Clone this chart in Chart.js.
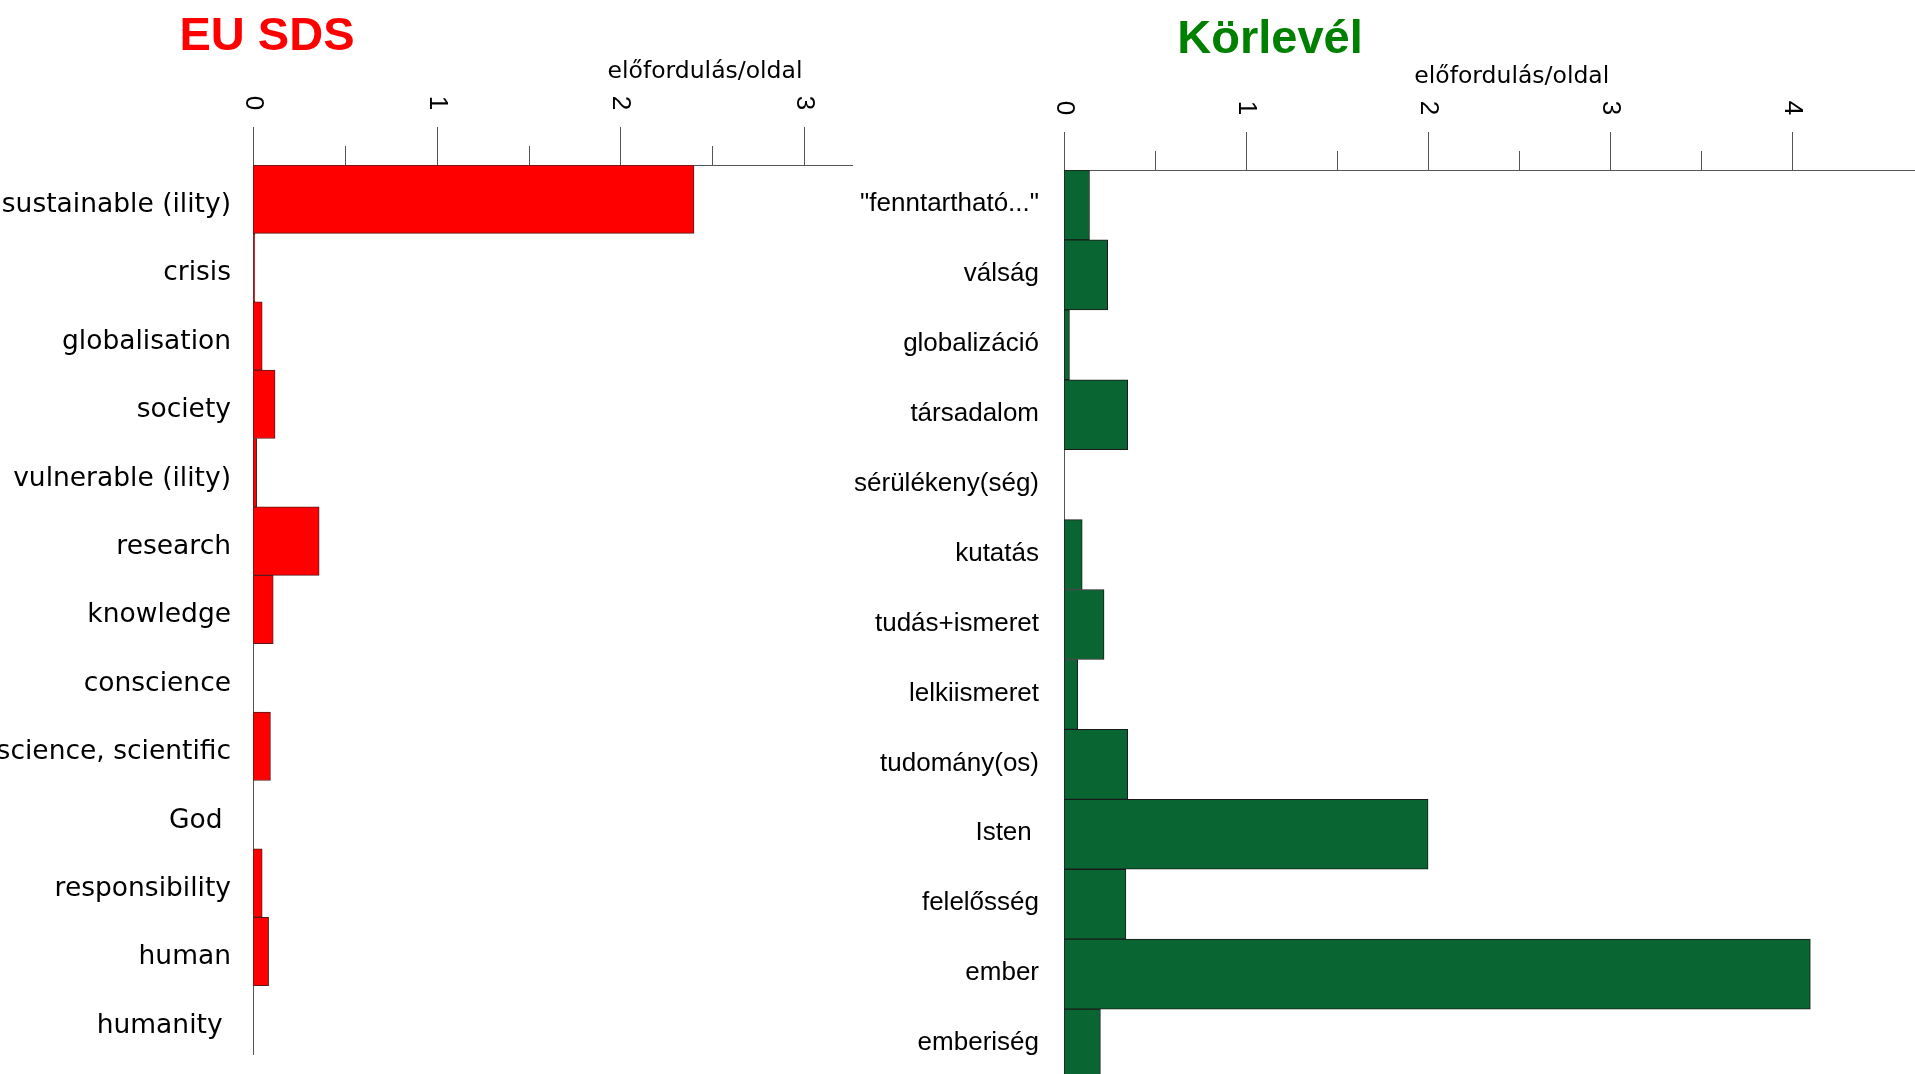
<!DOCTYPE html>
<html>
<head>
<meta charset="utf-8">
<script src="https://cdn.jsdelivr.net/npm/chart.js@4.4.0/dist/chart.umd.min.js"></script>
<style>
  html, body { margin: 0; padding: 0; background: #fff; overflow: hidden; width: 1915px; height: 1074px; }
  canvas { position: absolute; top: 0; }
  #sdsChart { left: 0; }
  #korChart { left: 820px; }
</style>
</head>
<body>
<canvas id="sdsChart" width="870" height="1074"></canvas>
<canvas id="korChart" width="1095" height="1100"></canvas>
<script>
// EU SDS – occurrences per page
const sdsLabels = ["sustainable (ility)", "crisis", "globalisation", "society", "vulnerable (ility)", "research",
  "knowledge", "conscience", "science, scientific", "God ", "responsibility", "human", "humanity "];
const sdsValues = [2.40, 0.01, 0.05, 0.12, 0.02, 0.36, 0.11, 0, 0.095, 0, 0.05, 0.085, 0];

// Körlevél – occurrences per page
const korLabels = ['"fenntartható..."', "válság", "globalizáció", "társadalom", "sérülékeny(ség)", "kutatás",
  "tudás+ismeret", "lelkiismeret", "tudomány(os)", "Isten ", "felelősség", "ember", "emberiség"];
const korValues = [0.14, 0.24, 0.03, 0.35, 0, 0.10, 0.22, 0.075, 0.35, 2.0, 0.34, 4.1, 0.2];

const axisTitle = "előfordulás/oldal";

// ticks, rotated tick labels, axis title and heading
const decor = {
  id: "decor",
  afterDraw(chart, args, opts) {
    const { ctx } = chart;
    const x = chart.scales.x;
    const top = chart.chartArea.top;
    ctx.save();
    ctx.strokeStyle = "#555";
    ctx.lineWidth = 1;
    x.ticks.forEach(t => {
      const px = Math.round(x.getPixelForValue(t.value)) + 0.5;
      const major = Number.isInteger(t.value);
      ctx.beginPath();
      ctx.moveTo(px, top);
      ctx.lineTo(px, top - (major ? 38 : 19));
      ctx.stroke();
      if (major) {
        ctx.save();
        ctx.translate(px, top - 62);
        ctx.rotate(Math.PI / 2);
        ctx.fillStyle = "#000";
        ctx.font = '26px "Liberation Sans"';
        ctx.textAlign = "center";
        ctx.textBaseline = "middle";
        ctx.fillText(String(t.value), 0, 0);
        ctx.restore();
      }
    });

    ctx.fillStyle = "#000";
    ctx.font = '23.5px "DejaVu Sans"';
    ctx.textAlign = "center";
    ctx.textBaseline = "alphabetic";
    ctx.fillText(axisTitle, x.getPixelForValue(opts.axisTitleAt), top - 87);

    ctx.fillStyle = opts.color;
    ctx.font = 'bold 47px "Liberation Sans"';
    ctx.fillText(opts.title, opts.titleX, opts.titleY);
    ctx.restore();
  }
};

function makeChart(id, labels, values, cfg) {
  return new Chart(document.getElementById(id), {
    type: "bar",
    data: {
      labels,
      datasets: [{
        data: values,
        backgroundColor: cfg.fill,
        borderColor: cfg.edge,
        borderWidth: 1,
        borderSkipped: false,
        barPercentage: 1,
        categoryPercentage: 1
      }]
    },
    options: {
      indexAxis: "y",
      responsive: false,
      animation: false,
      devicePixelRatio: 1,
      layout: { padding: { top: 0, left: 0, right: cfg.padRight, bottom: cfg.padBottom } },
      plugins: {
        legend: { display: false },
        tooltip: { enabled: false },
        decor: { title: cfg.title, color: cfg.titleColor, titleX: cfg.titleX, titleY: cfg.titleY, axisTitleAt: 2.46 }
      },
      scales: {
        x: {
          type: "linear",
          position: "top",
          min: 0,
          max: cfg.max,
          ticks: { display: false, stepSize: 0.5 },
          grid: { display: false, drawTicks: false },
          border: { display: true, color: "#555" },
          afterBuildTicks: s => {
            s.ticks = s.ticks.filter(t => Math.abs(t.value * 2 - Math.round(t.value * 2)) < 1e-6);
          },
          afterFit: s => { s.height = cfg.axisTop; }
        },
        y: {
          position: "left",
          grid: { display: false, drawTicks: false },
          border: { display: true, color: "#555" },
          ticks: {
            autoSkip: false,
            padding: cfg.labelPad,
            labelOffset: cfg.labelShift,
            color: "#000",
            font: cfg.labelFont
          },
          afterFit: s => {
            s.width = cfg.axisLeft;
            s.paddingTop = 0;
            s.paddingBottom = 0;
          }
        }
      }
    },
    plugins: [decor]
  });
}

makeChart("sdsChart", sdsLabels, sdsValues, {
  fill: "#ff0000", edge: "#5a1a1a", max: 3.26,
  padRight: 18, padBottom: 20, axisTop: 165, axisLeft: 253, labelPad: 22, labelShift: 6,
  labelFont: { family: "DejaVu Sans", size: 26.5 },
  title: "EU SDS", titleColor: "#ff0000", titleX: 267, titleY: 50
});

makeChart("korChart", korLabels, korValues, {
  fill: "#096633", edge: "#1a1a1a", max: 4.675,
  padRight: 0, padBottom: 21, axisTop: 170, axisLeft: 244, labelPad: 25, labelShift: -1,
  labelFont: { family: "Liberation Sans", size: 26 },
  title: "Körlevél", titleColor: "#008000", titleX: 450, titleY: 53
});
</script>
</body>
</html>
